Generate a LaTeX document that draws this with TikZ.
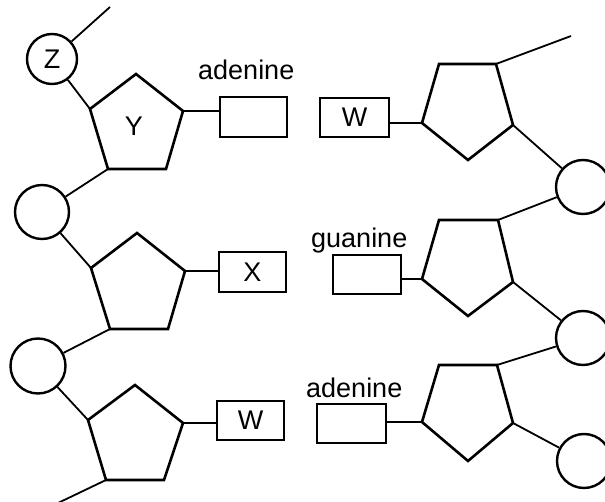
\documentclass[tikz,border=0pt]{standalone}
\usepackage{fontspec}
\setmainfont{Liberation Sans}
\begin{document}
\begin{tikzpicture}[x=1pt,y=-1pt,
  pent/.style={line width=2.6pt,line join=miter},
  ball/.style={circle,draw,line width=2.4pt,inner sep=0pt,font=\fontsize{27}{32}\selectfont},
  base/.style={rectangle,draw,line width=1.9pt,inner sep=0pt,minimum width=67pt,minimum height=40pt,font=\fontsize{27}{32}\selectfont},
  link/.style={line width=1.8pt},
  lbl/.style={inner sep=0pt,anchor=base west,font=\fontsize{27}{32}\selectfont}]
\useasboundingbox (0,0) rectangle (605,502);
% left pentagons
\coordinate (p1t) at (136,74);  \coordinate (p1r) at (183,111); \coordinate (p1br) at (166,169); \coordinate (p1bl) at (108,169); \coordinate (p1l) at (90,109);
\coordinate (p2t) at (137,233); \coordinate (p2r) at (185,271); \coordinate (p2br) at (168,329); \coordinate (p2bl) at (110,329); \coordinate (p2l) at (91,268);
\coordinate (p3t) at (135,385); \coordinate (p3r) at (183,423); \coordinate (p3br) at (164,480); \coordinate (p3bl) at (106,480); \coordinate (p3l) at (88,420);
\draw[pent] (p1t) -- (p1r) -- (p1br) -- (p1bl) -- (p1l) -- cycle;
\draw[pent] (p2t) -- (p2r) -- (p2br) -- (p2bl) -- (p2l) -- cycle;
\draw[pent] (p3t) -- (p3r) -- (p3br) -- (p3bl) -- (p3l) -- cycle;
\node[inner sep=0pt,font=\fontsize{27}{32}\selectfont] (ylab) at (134,126) {Y};
% right pentagons
\coordinate (q1l) at (422,123); \coordinate (q1tl) at (439,64);  \coordinate (q1tr) at (496,64);  \coordinate (q1r) at (513,125); \coordinate (q1b) at (468,160);
\coordinate (q2l) at (422,279); \coordinate (q2tl) at (439,220); \coordinate (q2tr) at (498,220); \coordinate (q2r) at (513,282); \coordinate (q2b) at (468,316);
\coordinate (q3l) at (422,422); \coordinate (q3tl) at (439,365); \coordinate (q3tr) at (497,365); \coordinate (q3r) at (513,423); \coordinate (q3b) at (468,461);
\draw[pent] (q1l) -- (q1tl) -- (q1tr) -- (q1r) -- (q1b) -- cycle;
\draw[pent] (q2l) -- (q2tl) -- (q2tr) -- (q2r) -- (q2b) -- cycle;
\draw[pent] (q3l) -- (q3tl) -- (q3tr) -- (q3r) -- (q3b) -- cycle;
% circles
\node[ball,minimum size=50pt] (cz) at (52,59) {Z};
\node[ball,minimum size=54pt] (cl2) at (42,212) {};
\node[ball,minimum size=55pt] (cl3) at (38,366) {};
\node[ball,minimum size=54pt] (cr1) at (583,187) {};
\node[ball,minimum size=54pt] (cr2) at (583,338) {};
\node[ball,minimum size=54pt] (cr3) at (584,461) {};
% boxes
\node[base] (ba1) at (253.5,117) {};
\node[base] (bx) at (252.5,272) {X};
\node[base,minimum height=39pt] (bw1) at (250.5,420.5) {W};
\node[base,minimum width=69pt,minimum height=39pt] (bw2) at (354.5,117.5) {W};
\node[base,minimum width=68pt,minimum height=39pt] (bg) at (367,274.5) {};
\node[base,minimum width=69pt,minimum height=39pt] (ba2) at (351.5,423.5) {};
% labels
\node[lbl] (t1) at (198,80) {adenine};
\node[lbl] (t2) at (311,248) {guanine};
\node[lbl] (t3) at (306,397) {adenine};
% free ends
\coordinate (e1) at (110,7);
\coordinate (e2) at (58,503);
\coordinate (e3) at (571,36);
% backbone links
\draw[link] (e1) -- (cz);
\draw[link] (cz) -- (p1l);
\draw[link] (p1bl) -- (cl2);
\draw[link] (cl2) -- (p2l);
\draw[link] (p2bl) -- (cl3);
\draw[link] (cl3) -- (p3l);
\draw[link] (p3bl) -- (e2);
\draw[link] (q1tr) -- (e3);
\draw[link] (q1r) -- (cr1);
\draw[link] (cr1) -- (q2tr);
\draw[link] (q2r) -- (cr2);
\draw[link] (cr2) -- (q3tr);
\draw[link] (q3r) -- (cr3);
% base links
\draw[link] (p1r) -- (p1r -| ba1.west);
\draw[link] (p2r) -- (p2r -| bx.west);
\draw[link] (p3r) -- (p3r -| bw1.west);
\draw[link] (q1l) -- (q1l -| bw2.east);
\draw[link] (q2l) -- (q2l -| bg.east);
\draw[link] (q3l) -- (q3l -| ba2.east);
\end{tikzpicture}
\end{document}
